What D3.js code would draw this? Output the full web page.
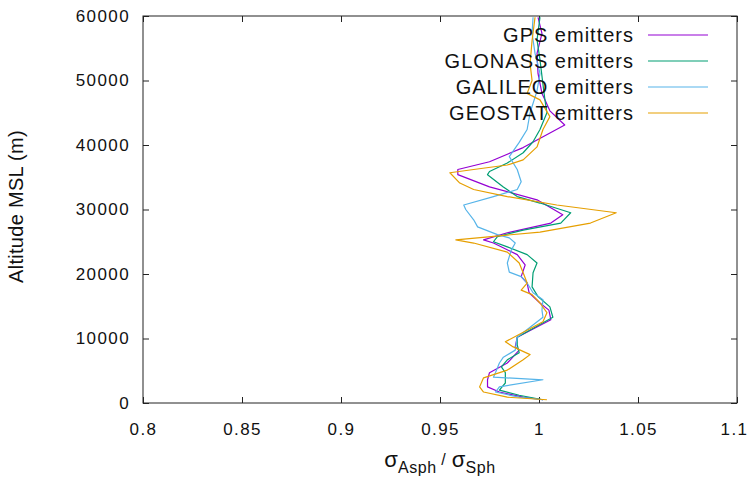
<!DOCTYPE html>
<html>
<head>
<meta charset="utf-8">
<script src="https://cdn.jsdelivr.net/npm/d3@7"></script>
<style>
    body { margin: 0; background: #fff; }
    #chart-area { width: 749px; height: 487px; }
    text { font-family: "Liberation Sans", Arial, Helvetica, sans-serif; fill: #111; }
    .axis path { display: none; }
    .axis line { stroke: #222; }
    .axis text { font-size: 17px; letter-spacing: 1.4px; }
    .legend text { font-size: 20px; letter-spacing: 1px; }
</style>
</head>
<body>
<div id="chart-area"></div>
<script>

// altitude (m) / ratio values
let gpsAlt = [500, 900, 1700, 2500, 3600, 4700, 6200, 8200, 8700, 10200, 12900, 14400, 15500, 17100, 18600, 19600, 21400, 23000, 24800, 25300, 26400, 27900, 29200, 31500, 33500, 35400, 36200, 37400, 39600, 43100, 45300, 47000, 48000, 51100, 54200, 57300, 59800];
let gpsVal = [1.002, 0.992, 0.980, 0.974, 0.974, 0.975, 0.984, 0.990, 0.988, 0.989, 1.006, 1.005, 1.0005, 0.995, 0.994, 0.991, 0.993, 0.989, 0.977, 0.972, 0.984, 1.006, 1.012, 0.999, 0.975, 0.959, 0.959, 0.975, 0.992, 1.013, 1.0055, 1.003, 1.0015, 0.9995, 0.999, 1.0015, 0.9995];

let glonassAlt = [500, 1200, 2000, 3100, 4700, 5600, 6700, 7800, 9000, 10200, 13300, 14900, 16500, 18000, 20200, 21700, 23000, 24200, 25000, 25800, 26800, 27900, 29500, 31000, 32000, 33500, 35400, 35900, 37200, 38800, 40500, 42400, 45000, 47000, 49400, 53200, 56300, 59800];
let glonassVal = [1.002, 0.990, 0.980, 0.983, 0.983, 0.981, 0.984, 0.990, 0.989, 0.989, 1.007, 1.0055, 0.9995, 0.9965, 0.997, 0.999, 0.994, 0.984, 0.977, 0.979, 0.992, 1.011, 1.016, 1.0005, 0.989, 0.982, 0.974, 0.975, 0.984, 0.992, 0.997, 1.0005, 1.004, 1.003, 1.002, 1.0005, 0.999, 1.0005];

let galileoAlt = [500, 900, 1700, 2500, 3600, 4000, 4700, 6200, 7100, 8200, 10200, 13300, 14400, 16000, 17100, 18600, 19600, 20300, 21700, 23700, 24800, 25600, 26100, 27300, 28400, 30000, 30700, 32000, 33100, 34300, 36200, 38200, 40400, 42400, 45000, 48400, 51100, 54200, 57300, 59800];
let galileoVal = [1.002, 0.990, 0.978, 0.980, 1.002, 0.977, 0.978, 0.980, 0.982, 0.988, 0.989, 1.002, 1.0015, 1.002, 0.997, 0.994, 0.991, 0.985, 0.984, 0.986, 0.988, 0.985, 0.979, 0.969, 0.967, 0.963, 0.962, 0.977, 0.989, 0.991, 0.989, 0.985, 0.990, 0.994, 0.9955, 0.999, 1.0005, 0.998, 0.9965, 0.997];

let geostatAlt = [500, 900, 1700, 2500, 3900, 5100, 6700, 7500, 8700, 9500, 12600, 14000, 15500, 16800, 17500, 18600, 20200, 21700, 23400, 24800, 25300, 26500, 27900, 29500, 30700, 32000, 33100, 34100, 35700, 36200, 36900, 37700, 39700, 42400, 44400, 47000, 48000, 50000, 52600, 56200, 59800];
let geostatVal = [1.004, 0.984, 0.972, 0.970, 0.972, 0.984, 0.992, 0.9955, 0.987, 0.983, 1.002, 1.004, 1.0005, 0.9965, 0.991, 0.994, 0.992, 0.990, 0.984, 0.967, 0.958, 1.0005, 1.026, 1.039, 1.009, 0.984, 0.967, 0.960, 0.955, 0.967, 0.984, 0.992, 0.999, 1.002, 1.0055, 1.0005, 0.994, 0.9965, 0.9955, 0.9965, 0.998];

let seriesNames = ["GPS emitters", "GLONASS emitters", "GALILEO emitters", "GEOSTAT emitters"];
let seriesColors = ["#9400d3", "#009e73", "#56b4e9", "#e69f00"];

let xTicks = [0.8, 0.85, 0.9, 0.95, 1, 1.05, 1.1];
let yTicks = [0, 10000, 20000, 30000, 40000, 50000, 60000];


class ProfileVis {

    constructor(parentElement, series) {
        this.parentElement = parentElement;
        this.series = series;

        this.initVis()
    }

    initVis() {
        let vis = this;

        vis.margin = {top: 16, right: 12, bottom: 84, left: 143};
        vis.width = 749 - vis.margin.left - vis.margin.right;
        vis.height = 487 - vis.margin.top - vis.margin.bottom;

        vis.svg = d3.select("#" + vis.parentElement).append("svg")
            .attr("width", vis.width + vis.margin.left + vis.margin.right)
            .attr("height", vis.height + vis.margin.top + vis.margin.bottom)
            .append('g')
            .attr('transform', `translate (${vis.margin.left}, ${vis.margin.top})`);

        vis.x = d3.scaleLinear()
            .domain([0.8, 1.1])
            .range([0, vis.width]);

        vis.y = d3.scaleLinear()
            .domain([0, 60000])
            .range([vis.height, 0]);

        // gnuplot style: inward ticks, mirrored on top / right
        vis.xAxis = d3.axisBottom(vis.x).tickValues(xTicks)
            .tickSizeInner(-6).tickSizeOuter(0).tickPadding(20)
            .tickFormat(d => d3.format("")(d));
        vis.yAxis = d3.axisLeft(vis.y).tickValues(yTicks)
            .tickSizeInner(-6).tickSizeOuter(0).tickPadding(13)
            .tickFormat(d => d);
        vis.xAxisTop = d3.axisTop(vis.x).tickValues(xTicks)
            .tickSizeInner(-6).tickSizeOuter(0).tickFormat("");
        vis.yAxisRight = d3.axisRight(vis.y).tickValues(yTicks)
            .tickSizeInner(-6).tickSizeOuter(0).tickFormat("");

        vis.svg.append("g")
            .attr("class", "x-axis axis")
            .attr("transform", "translate(0," + vis.height + ")")
            .call(vis.xAxis);
        vis.svg.append("g")
            .attr("class", "y-axis axis")
            .call(vis.yAxis);
        vis.svg.append("g")
            .attr("class", "axis")
            .call(vis.xAxisTop);
        vis.svg.append("g")
            .attr("class", "axis")
            .attr("transform", "translate(" + vis.width + ",0)")
            .call(vis.yAxisRight);

        // last label sits on the page edge, pull it in a bit
        vis.svg.select(".x-axis").selectAll(".tick:last-of-type text")
            .attr("dx", -3);

        vis.svg.append("rect")
            .attr("width", vis.width)
            .attr("height", vis.height)
            .attr("fill", "none")
            .attr("stroke", "#222")
            .attr("stroke-width", 1);

        // axis titles
        vis.svg.append("text")
            .attr("transform", `translate(-120, ${vis.height / 2 - 3}) rotate(-90)`)
            .attr("text-anchor", "middle")
            .style("font-size", "20px")
            .style("letter-spacing", "0.3px")
            .text("Altitude MSL (m)");

        let xt = vis.svg.append("text")
            .attr("x", vis.width / 2)
            .attr("y", vis.height + 64)
            .attr("text-anchor", "middle")
            .style("font-size", "22px");
        xt.append("tspan").text("σ");
        xt.append("tspan").attr("dy", 6).style("font-size", "16px").style("letter-spacing", "0.6px").text("Asph");
        xt.append("tspan").attr("dy", -8).style("font-size", "16px").text(" /");
        xt.append("tspan").attr("dy", 2).text(" σ");
        xt.append("tspan").attr("dy", 6).style("font-size", "16px").style("letter-spacing", "0.6px").text("Sph");

        vis.line = d3.line()
            .x(d => vis.x(d.val))
            .y(d => vis.y(d.alt));

        vis.legend = vis.svg.append("g")
            .attr("class", "legend");

        vis.wrangleData();
    }

    wrangleData() {
        let vis = this;

        vis.displayData = vis.series.map(s => ({
            name: s.name,
            color: s.color,
            values: s.alt.map((a, i) => ({alt: a, val: s.val[i]}))
        }));

        vis.updateVis();
    }

    updateVis() {
        let vis = this;

        vis.svg.selectAll(".profile")
            .data(vis.displayData)
            .enter().append("path")
            .attr("class", "profile")
            .attr("d", d => vis.line(d.values))
            .attr("fill", "none")
            .attr("stroke", d => d.color)
            .attr("stroke-width", 1.2)
            .attr("stroke-linejoin", "round");

        vis.legend.raise();

        let rows = vis.legend.selectAll(".row")
            .data(vis.displayData)
            .enter().append("g")
            .attr("class", "row")
            .attr("transform", (d, i) => `translate(0, ${19 + i * 26})`);

        rows.append("text")
            .attr("x", 491)
            .attr("y", 7)
            .attr("text-anchor", "end")
            .text(d => d.name);

        rows.append("line")
            .attr("x1", 505)
            .attr("x2", 565)
            .attr("stroke", d => d.color)
            .attr("stroke-width", 1.2);
    }
}

let profileVis = new ProfileVis("chart-area", [
    {name: seriesNames[0], color: seriesColors[0], alt: gpsAlt, val: gpsVal},
    {name: seriesNames[1], color: seriesColors[1], alt: glonassAlt, val: glonassVal},
    {name: seriesNames[2], color: seriesColors[2], alt: galileoAlt, val: galileoVal},
    {name: seriesNames[3], color: seriesColors[3], alt: geostatAlt, val: geostatVal}
]);

</script>
</body>
</html>
